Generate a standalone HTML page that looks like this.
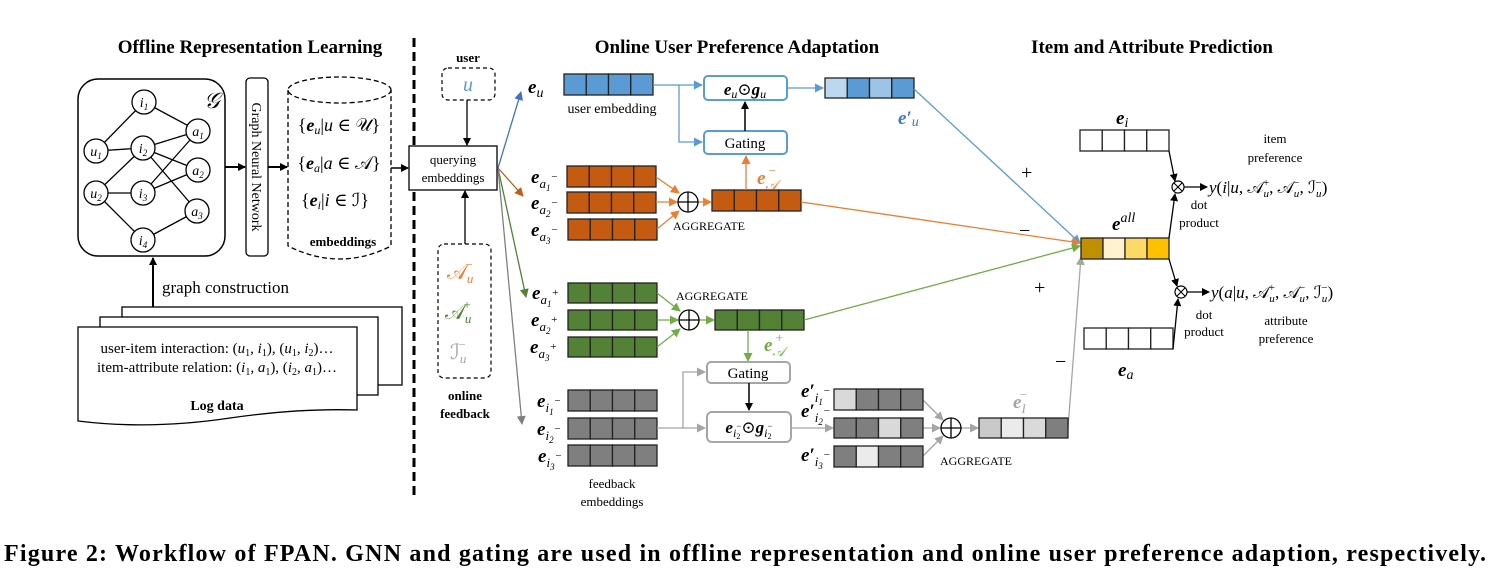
<!DOCTYPE html>
<html><head><meta charset="utf-8"><style>
html,body{margin:0;padding:0;background:#fff;}
svg{display:block;font-family:"Liberation Serif","DejaVu Serif",serif;}
.b{font-weight:bold;}
.i{font-style:italic;}
</style></head><body>
<svg width="1490" height="588" viewBox="0 0 1490 588" xmlns="http://www.w3.org/2000/svg">
<defs>
<marker id="ak" markerWidth="8" markerHeight="8" refX="7" refY="4" orient="auto" markerUnits="userSpaceOnUse"><path d="M0,0L8,4L0,8z" fill="#000"/></marker>
<marker id="abl" markerWidth="9" markerHeight="9" refX="8" refY="4.5" orient="auto" markerUnits="userSpaceOnUse"><path d="M0,0L9,4.5L0,9z" fill="#4472c4"/></marker>
<marker id="alb" markerWidth="9" markerHeight="9" refX="8" refY="4.5" orient="auto" markerUnits="userSpaceOnUse"><path d="M0,0L9,4.5L0,9z" fill="#5b9bd5"/></marker>
<marker id="aor" markerWidth="9" markerHeight="9" refX="8" refY="4.5" orient="auto" markerUnits="userSpaceOnUse"><path d="M0,0L9,4.5L0,9z" fill="#ed7d31"/></marker>
<marker id="agr" markerWidth="9" markerHeight="9" refX="8" refY="4.5" orient="auto" markerUnits="userSpaceOnUse"><path d="M0,0L9,4.5L0,9z" fill="#70ad47"/></marker>
<marker id="agy" markerWidth="9" markerHeight="9" refX="8" refY="4.5" orient="auto" markerUnits="userSpaceOnUse"><path d="M0,0L9,4.5L0,9z" fill="#a5a5a5"/></marker>
<marker id="agd" markerWidth="9" markerHeight="9" refX="8" refY="4.5" orient="auto" markerUnits="userSpaceOnUse"><path d="M0,0L9,4.5L0,9z" fill="#538135"/></marker>
<marker id="aod" markerWidth="9" markerHeight="9" refX="8" refY="4.5" orient="auto" markerUnits="userSpaceOnUse"><path d="M0,0L9,4.5L0,9z" fill="#c55a11"/></marker>
<marker id="agg" markerWidth="9" markerHeight="9" refX="8" refY="4.5" orient="auto" markerUnits="userSpaceOnUse"><path d="M0,0L9,4.5L0,9z" fill="#7f7f7f"/></marker>
</defs>

<text x="250" y="53" class="b" font-size="19" text-anchor="middle">Offline Representation Learning</text>
<text x="737" y="53" class="b" font-size="19" text-anchor="middle">Online User Preference Adaptation</text>
<text x="1152" y="53" class="b" font-size="19" text-anchor="middle">Item and Attribute Prediction</text>

<line x1="414" y1="38" x2="414" y2="496" stroke="#000" stroke-width="3" stroke-dasharray="9,5"/>

<rect x="78" y="79" width="147" height="177" rx="20" fill="none" stroke="#000" stroke-width="1.5"/>
<g stroke="#000" stroke-width="1.3">
<line x1="96" y1="151" x2="144" y2="102"/><line x1="96" y1="151" x2="143" y2="148"/>
<line x1="96" y1="193" x2="143" y2="148"/><line x1="96" y1="193" x2="143" y2="193"/><line x1="96" y1="193" x2="143" y2="240"/>
<line x1="144" y1="102" x2="198" y2="131"/>
<line x1="143" y1="148" x2="198" y2="131"/><line x1="143" y1="148" x2="198" y2="170"/><line x1="143" y1="148" x2="197" y2="211"/>
<line x1="143" y1="193" x2="198" y2="131"/><line x1="143" y1="193" x2="198" y2="170"/>
<line x1="143" y1="240" x2="197" y2="211"/>
</g>
<g fill="#fff" stroke="#000" stroke-width="1.3">
<circle cx="96" cy="151" r="12"/><circle cx="96" cy="193" r="12"/>
<circle cx="144" cy="102" r="12"/><circle cx="143" cy="148" r="12"/><circle cx="143" cy="193" r="12"/><circle cx="143" cy="240" r="12"/>
<circle cx="198" cy="131" r="12"/><circle cx="198" cy="170" r="12"/><circle cx="197" cy="211" r="12"/>
</g>
<g font-size="14" class="i" text-anchor="middle">
<text x="96" y="156">u<tspan font-size="9" dy="3">1</tspan></text>
<text x="96" y="198">u<tspan font-size="9" dy="3">2</tspan></text>
<text x="144" y="107">i<tspan font-size="9" dy="3">1</tspan></text>
<text x="143" y="153">i<tspan font-size="9" dy="3">2</tspan></text>
<text x="143" y="198">i<tspan font-size="9" dy="3">3</tspan></text>
<text x="143" y="245">i<tspan font-size="9" dy="3">4</tspan></text>
<text x="198" y="136">a<tspan font-size="9" dy="3">1</tspan></text>
<text x="198" y="175">a<tspan font-size="9" dy="3">2</tspan></text>
<text x="197" y="216">a<tspan font-size="9" dy="3">3</tspan></text>
</g>
<text x="204" y="108" font-size="22" class="i">𝒢</text>
<line x1="225" y1="167" x2="245" y2="167" stroke="#000" stroke-width="2" marker-end="url(#ak)"/>
<rect x="246" y="78" width="22" height="178" rx="4" fill="#fff" stroke="#000" stroke-width="1.3"/>
<text transform="translate(252,167) rotate(90)" font-size="14" text-anchor="middle">Graph Neural Network</text>
<line x1="268" y1="167" x2="287" y2="167" stroke="#000" stroke-width="2" marker-end="url(#ak)"/>
<path d="M288,90 L288,246 Q340,272 391,246 L391,90" fill="none" stroke="#000" stroke-width="1.3" stroke-dasharray="5,3"/>
<ellipse cx="339.5" cy="90" rx="51.5" ry="13" fill="none" stroke="#000" stroke-width="1.3" stroke-dasharray="5,3"/>
<g font-size="18" text-anchor="middle">
<text x="339" y="131">{<tspan class="b i">e</tspan><tspan class="i" font-size="12" dy="3">u</tspan><tspan dy="-3">|</tspan><tspan class="i">u</tspan> ∈ 𝒰}</text>
<text x="339" y="169">{<tspan class="b i">e</tspan><tspan class="i" font-size="12" dy="3">a</tspan><tspan dy="-3">|</tspan><tspan class="i">a</tspan> ∈ 𝒜}</text>
<text x="335" y="206">{<tspan class="b i">e</tspan><tspan class="i" font-size="12" dy="3">i</tspan><tspan dy="-3">|</tspan><tspan class="i">i</tspan> ∈ ℐ}</text>
</g>
<text x="343" y="246" class="b" font-size="13" text-anchor="middle">embeddings</text>
<line x1="391" y1="168" x2="408" y2="168" stroke="#000" stroke-width="1.5" marker-end="url(#ak)"/>

<rect x="122" y="307" width="280" height="78" fill="#fff" stroke="#000" stroke-width="1.3"/>
<rect x="100" y="317" width="278" height="78" fill="#fff" stroke="#000" stroke-width="1.3"/>
<path d="M78,327 L357,327 L357,410 Q300,408 230,418 Q150,430 78,421 Z" fill="#fff" stroke="#000" stroke-width="1.3"/>
<text x="217" y="353" font-size="15" text-anchor="middle">user-item interaction: (<tspan class="i">u</tspan><tspan font-size="10" dy="3">1</tspan><tspan dy="-3">, </tspan><tspan class="i">i</tspan><tspan font-size="10" dy="3">1</tspan><tspan dy="-3">), (</tspan><tspan class="i">u</tspan><tspan font-size="10" dy="3">1</tspan><tspan dy="-3">, </tspan><tspan class="i">i</tspan><tspan font-size="10" dy="3">2</tspan><tspan dy="-3">)…</tspan></text>
<text x="217" y="372" font-size="15" text-anchor="middle">item-attribute relation: (<tspan class="i">i</tspan><tspan font-size="10" dy="3">1</tspan><tspan dy="-3">, </tspan><tspan class="i">a</tspan><tspan font-size="10" dy="3">1</tspan><tspan dy="-3">), (</tspan><tspan class="i">i</tspan><tspan font-size="10" dy="3">2</tspan><tspan dy="-3">, </tspan><tspan class="i">a</tspan><tspan font-size="10" dy="3">1</tspan><tspan dy="-3">)…</tspan></text>
<text x="217" y="410" class="b" font-size="14" text-anchor="middle">Log data</text>
<line x1="153" y1="307" x2="153" y2="258" stroke="#000" stroke-width="2" marker-end="url(#ak)"/>
<text x="162" y="293" font-size="17">graph construction</text>

<text x="468" y="62" class="b" font-size="13" text-anchor="middle">user</text>
<rect x="442" y="68" width="53" height="32" rx="6" fill="none" stroke="#000" stroke-width="1.2" stroke-dasharray="4,3"/>
<text x="468" y="91" font-size="20" class="i" fill="#5b9bd5" text-anchor="middle">u</text>
<line x1="467" y1="100" x2="467" y2="145" stroke="#000" stroke-width="1.3" marker-end="url(#ak)"/>
<rect x="409" y="146" width="88" height="44" fill="#fff" stroke="#000" stroke-width="1.3"/>
<text x="453" y="164" font-size="13" text-anchor="middle">querying</text>
<text x="453" y="182" font-size="13" text-anchor="middle">embeddings</text>
<rect x="438" y="244" width="53" height="134" rx="6" fill="none" stroke="#000" stroke-width="1.2" stroke-dasharray="4,3"/>
<text x="447" y="279" font-size="21" fill="#ed7d31">𝒜<tspan font-size="13" dy="4" class="i">u</tspan><tspan font-size="13" dx="-8" dy="-14">−</tspan></text>
<text x="445" y="319" font-size="21" fill="#538135">𝒜<tspan font-size="13" dy="4" class="i">u</tspan><tspan font-size="13" dx="-8" dy="-14">+</tspan></text>
<text x="450" y="359" font-size="21" fill="#a5a5a5">ℐ<tspan font-size="13" dy="4" class="i">u</tspan><tspan font-size="13" dx="-8" dy="-14">−</tspan></text>
<line x1="465" y1="244" x2="465" y2="191" stroke="#000" stroke-width="1.3" marker-end="url(#ak)"/>
<text x="465" y="400" class="b" font-size="13" text-anchor="middle">online</text>
<text x="465" y="418" class="b" font-size="13" text-anchor="middle">feedback</text>

<line x1="498" y1="168" x2="521" y2="92" stroke="#4472c4" stroke-width="1.3" marker-end="url(#abl)"/>
<line x1="498" y1="168" x2="523" y2="196" stroke="#c55a11" stroke-width="1.3" marker-end="url(#aod)"/>
<line x1="498" y1="168" x2="526" y2="297" stroke="#538135" stroke-width="1.3" marker-end="url(#agd)"/>
<line x1="498" y1="168" x2="522" y2="424" stroke="#7f7f7f" stroke-width="1.3" marker-end="url(#agg)"/>

<g stroke="#222" stroke-width="1.3">
<rect x="564" y="74" width="22.25" height="21" fill="#5b9bd5"/><rect x="586.25" y="74" width="22.25" height="21" fill="#5b9bd5"/><rect x="608.5" y="74" width="22.25" height="21" fill="#5b9bd5"/><rect x="630.75" y="74" width="22.25" height="21" fill="#5b9bd5"/>
<rect x="825" y="78" width="22.25" height="20" fill="#bdd7ee"/><rect x="847.25" y="78" width="22.25" height="20" fill="#5b9bd5"/><rect x="869.5" y="78" width="22.25" height="20" fill="#9dc3e6"/><rect x="891.75" y="78" width="22.25" height="20" fill="#5b9bd5"/>
</g>
<text x="528" y="93" font-size="19" class="b i">e<tspan font-size="14" dy="4" font-weight="normal">u</tspan></text>
<text x="612" y="113" font-size="14" text-anchor="middle">user embedding</text>
<polyline points="653,85 679,85 679,142 702,142" fill="none" stroke="#5b9bd5" stroke-width="1.3" marker-end="url(#alb)"/>
<line x1="679" y1="85" x2="702" y2="85" stroke="#5b9bd5" stroke-width="1.3" marker-end="url(#alb)"/>
<rect x="704" y="76" width="83" height="24" rx="4" fill="#fff" stroke="#5b9bd5" stroke-width="2"/>
<text x="745" y="95" font-size="17" text-anchor="middle"><tspan class="b i">e</tspan><tspan class="i" font-size="12" dy="3">u</tspan><tspan dy="-3">⊙</tspan><tspan class="b i">g</tspan><tspan class="i" font-size="12" dy="3">u</tspan></text>
<rect x="704" y="131" width="83" height="23" rx="4" fill="#fff" stroke="#5b9bd5" stroke-width="2"/>
<text x="745" y="148" font-size="15" text-anchor="middle">Gating</text>
<line x1="745" y1="131" x2="745" y2="102" stroke="#000" stroke-width="1.5" marker-end="url(#ak)"/>
<line x1="787" y1="88" x2="823" y2="88" stroke="#5b9bd5" stroke-width="1.3" marker-end="url(#alb)"/>
<text x="898" y="124" font-size="19" class="b i" fill="#4472c4">e′<tspan font-size="14" dy="2" font-weight="normal">u</tspan></text>
<line x1="914" y1="89" x2="1080" y2="243" stroke="#5b9bd5" stroke-width="1.3" marker-end="url(#alb)"/>

<g stroke="#222" stroke-width="1.3" fill="#c55a11">
<rect x="567" y="166" width="22.25" height="21"/><rect x="589.25" y="166" width="22.25" height="21"/><rect x="611.5" y="166" width="22.25" height="21"/><rect x="633.75" y="166" width="22.25" height="21"/>
<rect x="567" y="192" width="22.25" height="21"/><rect x="589.25" y="192" width="22.25" height="21"/><rect x="611.5" y="192" width="22.25" height="21"/><rect x="633.75" y="192" width="22.25" height="21"/>
<rect x="568" y="219" width="22.25" height="21"/><rect x="590.25" y="219" width="22.25" height="21"/><rect x="612.5" y="219" width="22.25" height="21"/><rect x="634.75" y="219" width="22.25" height="21"/>
<rect x="712" y="190" width="22.25" height="21"/><rect x="734.25" y="190" width="22.25" height="21"/><rect x="756.5" y="190" width="22.25" height="21"/><rect x="778.75" y="190" width="22.25" height="21"/>
</g>
<g font-size="19" class="b i">
<text x="531" y="183">e<tspan font-size="13" dy="5" font-weight="normal">a</tspan><tspan font-size="9" font-weight="normal" dy="3">1</tspan><tspan font-size="11" dy="-11" font-weight="normal">−</tspan></text>
<text x="531" y="209">e<tspan font-size="13" dy="5" font-weight="normal">a</tspan><tspan font-size="9" font-weight="normal" dy="3">2</tspan><tspan font-size="11" dy="-11" font-weight="normal">−</tspan></text>
<text x="531" y="236">e<tspan font-size="13" dy="5" font-weight="normal">a</tspan><tspan font-size="9" font-weight="normal" dy="3">3</tspan><tspan font-size="11" dy="-11" font-weight="normal">−</tspan></text>
</g>
<g stroke="#ed7d31" stroke-width="1.3">
<line x1="656" y1="177" x2="679" y2="193" marker-end="url(#aor)"/>
<line x1="656" y1="202" x2="677" y2="202" marker-end="url(#aor)"/>
<line x1="657" y1="229" x2="679" y2="211" marker-end="url(#aor)"/>
<line x1="698" y1="202" x2="711" y2="202" marker-end="url(#aor)"/>
<line x1="746" y1="190" x2="746" y2="156" marker-end="url(#aor)"/>
<line x1="801" y1="202" x2="1080" y2="243" marker-end="url(#aor)"/>
</g>
<circle cx="688" cy="202" r="10" fill="#fff" stroke="#000" stroke-width="1.3"/>
<path d="M678,202H698M688,192V212" stroke="#000" stroke-width="1.3"/>
<text x="673" y="230" font-size="12">AGGREGATE</text>
<text x="757" y="184" font-size="19" class="b i" fill="#ed7d31">e<tspan font-size="13" dy="5" font-weight="normal">𝒜</tspan><tspan font-size="13" dx="-10" dy="-14" font-weight="normal">−</tspan></text>

<g stroke="#222" stroke-width="1.3" fill="#538135">
<rect x="568" y="283" width="22.25" height="20"/><rect x="590.25" y="283" width="22.25" height="20"/><rect x="612.5" y="283" width="22.25" height="20"/><rect x="634.75" y="283" width="22.25" height="20"/>
<rect x="568" y="310" width="22.25" height="20"/><rect x="590.25" y="310" width="22.25" height="20"/><rect x="612.5" y="310" width="22.25" height="20"/><rect x="634.75" y="310" width="22.25" height="20"/>
<rect x="568" y="337" width="22.25" height="20"/><rect x="590.25" y="337" width="22.25" height="20"/><rect x="612.5" y="337" width="22.25" height="20"/><rect x="634.75" y="337" width="22.25" height="20"/>
<rect x="715" y="310" width="22.25" height="20"/><rect x="737.25" y="310" width="22.25" height="20"/><rect x="759.5" y="310" width="22.25" height="20"/><rect x="781.75" y="310" width="22.25" height="20"/>
</g>
<g font-size="19" class="b i">
<text x="532" y="299">e<tspan font-size="13" dy="5" font-weight="normal">a</tspan><tspan font-size="9" font-weight="normal" dy="3">1</tspan><tspan font-size="11" dy="-11" font-weight="normal">+</tspan></text>
<text x="531" y="326">e<tspan font-size="13" dy="5" font-weight="normal">a</tspan><tspan font-size="9" font-weight="normal" dy="3">2</tspan><tspan font-size="11" dy="-11" font-weight="normal">+</tspan></text>
<text x="530" y="353">e<tspan font-size="13" dy="5" font-weight="normal">a</tspan><tspan font-size="9" font-weight="normal" dy="3">3</tspan><tspan font-size="11" dy="-11" font-weight="normal">+</tspan></text>
</g>
<g stroke="#70ad47" stroke-width="1.3">
<line x1="657" y1="293" x2="680" y2="311" marker-end="url(#agr)"/>
<line x1="657" y1="320" x2="678" y2="320" marker-end="url(#agr)"/>
<line x1="657" y1="347" x2="680" y2="329" marker-end="url(#agr)"/>
<line x1="699" y1="320" x2="714" y2="320" marker-end="url(#agr)"/>
<line x1="748" y1="330" x2="748" y2="361" marker-end="url(#agr)"/>
<line x1="804" y1="320" x2="1080" y2="246" marker-end="url(#agr)"/>
</g>
<circle cx="689" cy="320" r="10" fill="#fff" stroke="#000" stroke-width="1.3"/>
<path d="M679,320H699M689,310V330" stroke="#000" stroke-width="1.3"/>
<text x="676" y="300" font-size="12">AGGREGATE</text>
<text x="764" y="351" font-size="19" class="b i" fill="#70ad47">e<tspan font-size="13" dy="5" font-weight="normal">𝒜</tspan><tspan font-size="13" dx="-10" dy="-14" font-weight="normal">+</tspan></text>

<g stroke="#222" stroke-width="1.3" fill="#7f7f7f">
<rect x="568" y="390" width="22.25" height="21"/><rect x="590.25" y="390" width="22.25" height="21"/><rect x="612.5" y="390" width="22.25" height="21"/><rect x="634.75" y="390" width="22.25" height="21"/>
<rect x="568" y="418" width="22.25" height="21"/><rect x="590.25" y="418" width="22.25" height="21"/><rect x="612.5" y="418" width="22.25" height="21"/><rect x="634.75" y="418" width="22.25" height="21"/>
<rect x="568" y="445" width="22.25" height="21"/><rect x="590.25" y="445" width="22.25" height="21"/><rect x="612.5" y="445" width="22.25" height="21"/><rect x="634.75" y="445" width="22.25" height="21"/>
</g>
<g font-size="19" class="b i">
<text x="537" y="407">e<tspan font-size="13" dy="5" font-weight="normal">i</tspan><tspan font-size="9" font-weight="normal" dy="3">1</tspan><tspan font-size="11" dy="-11" font-weight="normal">−</tspan></text>
<text x="537" y="435">e<tspan font-size="13" dy="5" font-weight="normal">i</tspan><tspan font-size="9" font-weight="normal" dy="3">2</tspan><tspan font-size="11" dy="-11" font-weight="normal">−</tspan></text>
<text x="538" y="462">e<tspan font-size="13" dy="5" font-weight="normal">i</tspan><tspan font-size="9" font-weight="normal" dy="3">3</tspan><tspan font-size="11" dy="-11" font-weight="normal">−</tspan></text>
</g>
<text x="612" y="488" font-size="13" text-anchor="middle">feedback</text>
<text x="612" y="506" font-size="13" text-anchor="middle">embeddings</text>
<g stroke="#a5a5a5" stroke-width="1.3" fill="none">
<polyline points="657,428 683,428 683,372 705,372" marker-end="url(#agy)"/>
<line x1="683" y1="428" x2="705" y2="428" marker-end="url(#agy)"/>
<line x1="791" y1="428" x2="833" y2="428" marker-end="url(#agy)"/>
<line x1="923" y1="400" x2="943" y2="420" marker-end="url(#agy)"/>
<line x1="923" y1="428" x2="940" y2="428" marker-end="url(#agy)"/>
<line x1="923" y1="456" x2="943" y2="436" marker-end="url(#agy)"/>
<line x1="961" y1="428" x2="978" y2="428" marker-end="url(#agy)"/>
<line x1="1068" y1="428" x2="1081" y2="257" marker-end="url(#agy)"/>
</g>
<rect x="707" y="362" width="83" height="21" rx="4" fill="#fff" stroke="#a5a5a5" stroke-width="2"/>
<text x="748" y="378" font-size="15" text-anchor="middle">Gating</text>
<line x1="749" y1="383" x2="749" y2="410" stroke="#000" stroke-width="1.5" marker-end="url(#ak)"/>
<rect x="707" y="412" width="84" height="30" rx="5" fill="#fff" stroke="#a5a5a5" stroke-width="2"/>
<text x="749" y="433" font-size="17" text-anchor="middle"><tspan class="b i">e</tspan><tspan class="i" font-size="12" dy="4">i</tspan><tspan font-size="8" dy="2">2</tspan><tspan font-size="9" dx="-4" dy="-10">−</tspan><tspan dy="4">⊙</tspan><tspan class="b i">g</tspan><tspan class="i" font-size="12" dy="4">i</tspan><tspan font-size="8" dy="2">2</tspan><tspan font-size="9" dx="-4" dy="-10">−</tspan></text>
<g stroke="#222" stroke-width="1.3">
<rect x="834" y="389" width="22.25" height="21" fill="#d9d9d9"/><rect x="856.25" y="389" width="22.25" height="21" fill="#7f7f7f"/><rect x="878.5" y="389" width="22.25" height="21" fill="#7f7f7f"/><rect x="900.75" y="389" width="22.25" height="21" fill="#7f7f7f"/>
<rect x="834" y="418" width="22.25" height="20" fill="#7f7f7f"/><rect x="856.25" y="418" width="22.25" height="20" fill="#7f7f7f"/><rect x="878.5" y="418" width="22.25" height="20" fill="#d9d9d9"/><rect x="900.75" y="418" width="22.25" height="20" fill="#7f7f7f"/>
<rect x="834" y="446" width="22.25" height="21" fill="#7f7f7f"/><rect x="856.25" y="446" width="22.25" height="21" fill="#ebebeb"/><rect x="878.5" y="446" width="22.25" height="21" fill="#7f7f7f"/><rect x="900.75" y="446" width="22.25" height="21" fill="#7f7f7f"/>
<rect x="979" y="418" width="22.25" height="20" fill="#c9c9c9"/><rect x="1001.25" y="418" width="22.25" height="20" fill="#ebebeb"/><rect x="1023.5" y="418" width="22.25" height="20" fill="#dadada"/><rect x="1045.75" y="418" width="22.25" height="20" fill="#7f7f7f"/>
</g>
<g font-size="19" class="b i">
<text x="801" y="397">e′<tspan font-size="13" dy="5" font-weight="normal">i</tspan><tspan font-size="9" font-weight="normal" dy="3">1</tspan><tspan font-size="11" dy="-11" font-weight="normal">−</tspan></text>
<text x="801" y="417">e′<tspan font-size="13" dy="5" font-weight="normal">i</tspan><tspan font-size="9" font-weight="normal" dy="3">2</tspan><tspan font-size="11" dy="-11" font-weight="normal">−</tspan></text>
<text x="801" y="461">e′<tspan font-size="13" dy="5" font-weight="normal">i</tspan><tspan font-size="9" font-weight="normal" dy="3">3</tspan><tspan font-size="11" dy="-11" font-weight="normal">−</tspan></text>
</g>
<circle cx="951" cy="428" r="10" fill="#fff" stroke="#000" stroke-width="1.3"/>
<path d="M941,428H961M951,418V438" stroke="#000" stroke-width="1.3"/>
<text x="940" y="465" font-size="12">AGGREGATE</text>
<text x="1013" y="408" font-size="19" class="b i" fill="#a5a5a5">e<tspan font-size="13" dy="5" font-weight="normal">I</tspan><tspan font-size="13" dx="-7" dy="-14" font-weight="normal">−</tspan></text>

<g font-size="20" fill="#000">
<text x="1021" y="179">+</text><text x="1019" y="237">−</text><text x="1034" y="294">+</text><text x="1055" y="368">−</text>
</g>
<g stroke="#222" stroke-width="1.3">
<rect x="1080" y="130" width="22.25" height="21" fill="#fff"/><rect x="1102.25" y="130" width="22.25" height="21" fill="#fff"/><rect x="1124.5" y="130" width="22.25" height="21" fill="#fff"/><rect x="1146.75" y="130" width="22.25" height="21" fill="#fff"/>
<rect x="1081" y="238" width="22" height="21" fill="#bf9000"/><rect x="1103" y="238" width="22" height="21" fill="#fff2cc"/><rect x="1125" y="238" width="22" height="21" fill="#ffd966"/><rect x="1147" y="238" width="22" height="21" fill="#ffc000"/>
<rect x="1084" y="328" width="22.25" height="21" fill="#fff"/><rect x="1106.25" y="328" width="22.25" height="21" fill="#fff"/><rect x="1128.5" y="328" width="22.25" height="21" fill="#fff"/><rect x="1150.75" y="328" width="22.25" height="21" fill="#fff"/>
</g>
<text x="1116" y="124" font-size="19" class="b i">e<tspan font-size="14" dy="3" font-weight="normal">i</tspan></text>
<text x="1112" y="230" font-size="19" class="b i">e<tspan font-size="14" dy="-8" font-weight="normal">all</tspan></text>
<text x="1118" y="376" font-size="19" class="b i">e<tspan font-size="14" dy="3" font-weight="normal">a</tspan></text>
<g stroke="#000" stroke-width="1.3">
<line x1="1169" y1="151" x2="1175" y2="181" marker-end="url(#ak)"/>
<line x1="1169" y1="238" x2="1175" y2="194" marker-end="url(#ak)"/>
<line x1="1169" y1="259" x2="1177" y2="286" marker-end="url(#ak)"/>
<line x1="1173" y1="349" x2="1178" y2="299" marker-end="url(#ak)"/>
<line x1="1184" y1="187" x2="1207" y2="187" marker-end="url(#ak)"/>
<line x1="1187" y1="292" x2="1209" y2="292" marker-end="url(#ak)"/>
</g>
<g fill="#fff" stroke="#000" stroke-width="1.2">
<circle cx="1178" cy="187" r="6"/><circle cx="1181" cy="292" r="6"/>
</g>
<path d="M1174,183L1182,191M1182,183L1174,191M1177,288L1185,296M1185,288L1177,296" stroke="#000" stroke-width="1.1"/>
<text x="1209" y="193" font-size="17"><tspan class="i">y</tspan>(<tspan class="i">i</tspan>|<tspan class="i">u</tspan>, 𝒜<tspan font-size="11" dy="4" class="i">u</tspan><tspan font-size="11" dx="-6" dy="-11">+</tspan><tspan dy="7">, 𝒜</tspan><tspan font-size="11" dy="4" class="i">u</tspan><tspan font-size="11" dx="-6" dy="-11">−</tspan><tspan dy="7">, ℐ</tspan><tspan font-size="11" dy="4" class="i">u</tspan><tspan font-size="11" dx="-6" dy="-11">−</tspan><tspan dy="7">)</tspan></text>
<text x="1211" y="298" font-size="17"><tspan class="i">y</tspan>(<tspan class="i">a</tspan>|<tspan class="i">u</tspan>, 𝒜<tspan font-size="11" dy="4" class="i">u</tspan><tspan font-size="11" dx="-6" dy="-11">+</tspan><tspan dy="7">, 𝒜</tspan><tspan font-size="11" dy="4" class="i">u</tspan><tspan font-size="11" dx="-6" dy="-11">−</tspan><tspan dy="7">, ℐ</tspan><tspan font-size="11" dy="4" class="i">u</tspan><tspan font-size="11" dx="-6" dy="-11">−</tspan><tspan dy="7">)</tspan></text>
<g font-size="13" text-anchor="middle">
<text x="1275" y="143">item</text><text x="1275" y="162">preference</text>
<text x="1199" y="209">dot</text><text x="1199" y="227">product</text>
<text x="1204" y="319">dot</text><text x="1204" y="336">product</text>
<text x="1286" y="325">attribute</text><text x="1286" y="343">preference</text>
</g>

<text x="4" y="561" class="b" font-size="24" textLength="1482" lengthAdjust="spacing">Figure 2: Workflow of FPAN. GNN and gating are used in offline representation and online user preference adaption, respectively.</text>
</svg>
</body></html>
